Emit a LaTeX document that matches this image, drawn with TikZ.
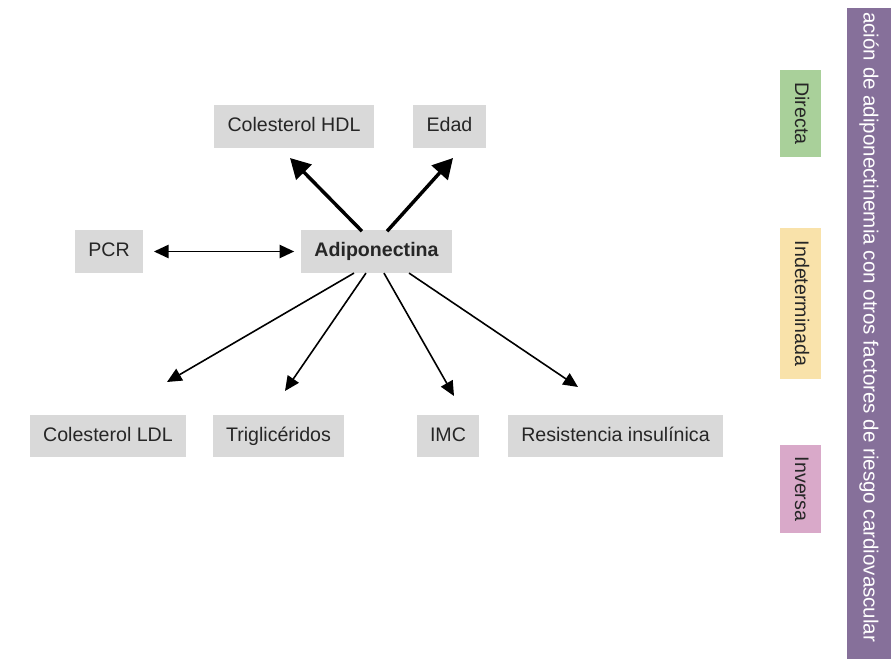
\documentclass[tikz,border=0pt]{standalone}
\usepackage{fontspec}
\setmainfont{Liberation Sans}
\usepackage{tikz}
\usetikzlibrary{arrows.meta}
\definecolor{boxgray}{HTML}{D9D9D9}
\definecolor{legdirect}{HTML}{A9D09A}
\definecolor{legindet}{HTML}{F9E2AA}
\definecolor{leginv}{HTML}{D9A9C9}
\definecolor{titlebar}{HTML}{86709A}

\begin{document}
\begin{tikzpicture}[x=0.75pt,y=-0.75pt,
    factor/.style={fill=boxgray,text=black!85,inner xsep=10pt,minimum height=32pt,
        text height=11pt,text depth=3pt,font=\fontsize{14.7}{17}\selectfont},
    legend/.style={rotate=-90,minimum height=31pt,text=black!85,
        text height=11pt,text depth=3pt,font=\fontsize{14.7}{17}\selectfont},
    bigarrow/.style={line width=2.6pt,-{Triangle[length=15pt,width=16pt]}},
    thinarrow/.style={line width=1.2pt,-{Triangle[length=11pt,width=10pt]}}]
        \useasboundingbox (0,0) rectangle (891,659);
        % Factors around adiponectin
        \node[factor,font=\fontsize{14.7}{17}\selectfont\bfseries] (adip) at (376.5,251.5) {Adiponectina};
        \node[factor] (hdl) at (294,126.5) {Colesterol HDL};
        \node[factor] (edad) at (449.5,126.5) {Edad};
        \node[factor] (pcr) at (109,251.5) {PCR};
        \node[factor] (ldl) at (108,436) {Colesterol LDL};
        \node[factor] (tg) at (278.5,436) {Triglicéridos};
        \node[factor] (imc) at (448,436) {IMC};
        \node[factor] (ri) at (615.5,436) {Resistencia insulínica};
        % Free arrow ends
        \coordinate (tiphdl) at (290,158);
        \coordinate (tipedad) at (453,158);
        \coordinate (tipldl) at (167,382);
        \coordinate (tiptg) at (285,391);
        \coordinate (tipimc) at (454,396);
        \coordinate (tipri) at (578,387);
        % Direct relation
        \draw[bigarrow] ([xshift=-10.9pt,yshift=-1pt]adip.north) -- (tiphdl);
        \draw[bigarrow] ([xshift=7.9pt,yshift=-1pt]adip.north) -- (tipedad);
        % Undetermined relation
        \draw[line width=1.2pt,{Triangle[length=11pt,width=10pt]}-{Triangle[length=11pt,width=10pt]},
            shorten <=8pt,shorten >=5pt] (pcr) -- (adip);
        % Inverse relation
        \draw[thinarrow] ([xshift=-16.9pt]adip.south) -- (tipldl);
        \draw[thinarrow] ([xshift=-7.9pt]adip.south) -- (tiptg);
        \draw[thinarrow] ([xshift=5.6pt]adip.south) -- (tipimc);
        \draw[thinarrow] ([xshift=24.4pt]adip.south) -- (tipri);
        % Legend
        \node[legend,fill=legdirect,minimum width=65pt] (ldirect) at (800.5,113.5) {Directa};
        \node[legend,fill=legindet,minimum width=113pt] (lindet) at (800.5,303.5) {Indeterminada};
        \node[legend,fill=leginv,minimum width=66pt] (linv) at (800.5,489) {Inversa};
        % Title bar
        \fill[titlebar] (847,8) rectangle (891,659);
        \node[rotate=-90,anchor=west,inner sep=0pt,text=white,
            font=\fontsize{15.4}{18}\selectfont] (title) at (869,12)
            {ación de adiponectinemia con otros factores de riesgo cardiovascular};
\end{tikzpicture}
\end{document}
